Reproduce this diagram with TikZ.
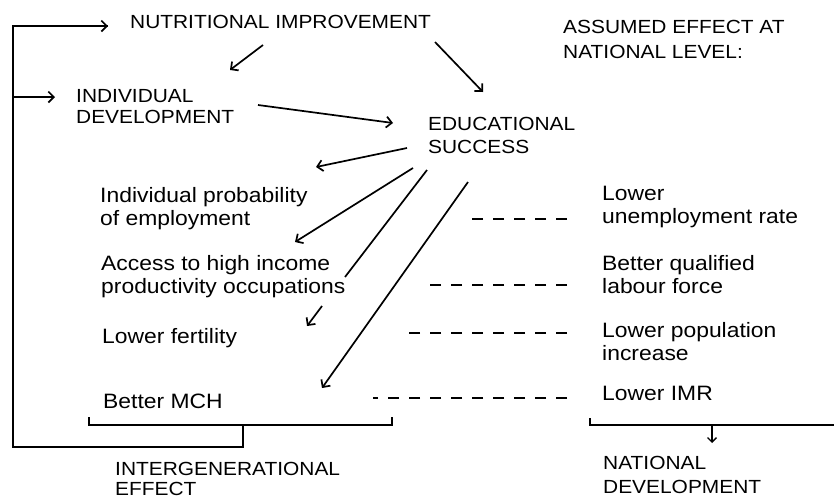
\documentclass[tikz,border=0pt]{standalone}
\usepackage{fontspec}
\setmainfont[FakeStretch=1.1]{Liberation Sans}
\usetikzlibrary{arrows.meta}
\begin{document}
\begin{tikzpicture}[x=1pt,y=-1pt,
  capt/.style={anchor=base west, inner sep=0pt, align=left, font=\fontsize{19}{24}\selectfont},
  lowt/.style={anchor=base west, inner sep=0pt, align=left, font=\fontsize{20.8}{23}\selectfont},
  conn/.style={line width=1.7pt, -{Straight Barb[length=5.5pt,width=11pt]}},
  plainline/.style={line width=1.5pt},
  dashline/.style={line width=1.3pt, dash pattern=on 11pt off 10pt}]
\useasboundingbox (0,0) rectangle (834,499);

% texts (anchor = baseline of the last line)
\node[capt] (nut) at (130,28) {NUTRITIONAL IMPROVEMENT};
\node[capt, font=\fontsize{19}{25}\selectfont] (ass) at (563,58) {ASSUMED EFFECT AT\\NATIONAL LEVEL:};
\node[capt, font=\fontsize{19}{21}\selectfont] (ind) at (76,123) {INDIVIDUAL\\DEVELOPMENT};
\node[capt, font=\fontsize{19}{23}\selectfont] (edu) at (428,153) {EDUCATIONAL\\SUCCESS};
\node[lowt] (emp) at (100,225) {Individual probability\\of employment};
\node[lowt] (acc) at (101,293) {Access to high income\\productivity occupations};
\node[lowt] (fer) at (102,343) {Lower fertility};
\node[lowt] (mch) at (103,408) {Better MCH};
\node[lowt] (une) at (602,223) {Lower\\unemployment rate};
\node[lowt] (lab) at (602,293) {Better qualified\\labour force};
\node[lowt] (pop) at (602,360) {Lower population\\increase};
\node[lowt] (imr) at (602,400) {Lower IMR};
\node[capt, font=\fontsize{19}{20}\selectfont] (inter) at (115,495) {INTERGENERATIONAL\\EFFECT};
\node[capt] (natdev) at (603,493) {NATIONAL\\DEVELOPMENT};

% coordinates
\coordinate (lt) at (13,26);
\coordinate (lm) at (13,97);
\coordinate (lb) at (13,447);
\coordinate (nutin) at (108,26);
\coordinate (indin) at (55,97);
\coordinate (bm) at (243,447);
\coordinate (bmt) at (243,425);
\coordinate (lbl) at (89,417);
\coordinate (lbr) at (392,417);
\coordinate (rbl) at (590,418);
\coordinate (rbr) at (834,425);
\coordinate (ndt) at (712,425);
\coordinate (ndb) at (712,443);

\coordinate (n1s) at (263,45);  \coordinate (n1e) at (230,70);
\coordinate (n2s) at (435,42);  \coordinate (n2e) at (483,92);
\coordinate (i1s) at (258,105); \coordinate (i1e) at (393,123);
\coordinate (e1s) at (407,148); \coordinate (e1e) at (316,167);
\coordinate (e2s) at (413,168); \coordinate (e2e) at (295,242);
\coordinate (e3s) at (427,170); \coordinate (e3m) at (345,277);
\coordinate (e3n) at (322,306); \coordinate (e3e) at (307,326);
\coordinate (e4s) at (468,182); \coordinate (e4e) at (322,388);

% feedback loop and brackets
\draw[plainline] (nutin) -- (lt) -- (lb) -- (bm) -- (bmt);
\draw[conn] (lt) -- (nutin);
\draw[conn] (lm) -- (indin);
\draw[plainline] (lbl) -- (lbl |- bmt) -- (lbr |- bmt) -- (lbr);
\draw[plainline] (rbl) -- (rbl |- rbr) -- (rbr);
\draw[line width=1.3pt, -{Straight Barb[length=4.5pt,width=9pt]}] (ndt) -- (ndb);

% arrows
\draw[conn] (n1s) -- (n1e);
\draw[conn] (n2s) -- (n2e);
\draw[conn] (i1s) -- (i1e);
\draw[conn] (e1s) -- (e1e);
\draw[conn] (e2s) -- (e2e);
\draw[line width=1.7pt] (e3s) -- (e3m);
\draw[conn] (e3n) -- (e3e);
\draw[conn] (e4s) -- (e4e);

% dashed links
\draw[dashline] (567,219) -- (470,219);
\draw[dashline] (567,285) -- (430,285);
\draw[dashline] (567,333) -- (403,333);
\draw[dashline] (567,398) -- (373,398);
\end{tikzpicture}
\end{document}
